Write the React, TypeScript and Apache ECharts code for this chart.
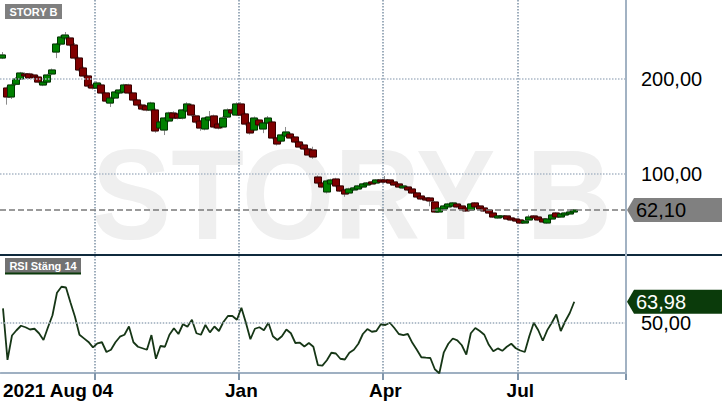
import React, { useEffect, useRef } from 'react';
import * as echarts from 'echarts';

const dates = [
  '2021-08-04','2021-08-06','2021-08-10','2021-08-12','2021-08-16','2021-08-18','2021-08-20','2021-08-24','2021-08-26','2021-08-30',
  '2021-09-01','2021-09-03','2021-09-07','2021-09-09','2021-09-13','2021-09-15','2021-09-17','2021-09-21','2021-09-23','2021-09-27','2021-09-29',
  '2021-10-01','2021-10-05','2021-10-07','2021-10-11','2021-10-13','2021-10-15','2021-10-19','2021-10-21','2021-10-25','2021-10-27','2021-10-29',
  '2021-11-02','2021-11-04','2021-11-08','2021-11-10','2021-11-12','2021-11-16','2021-11-18','2021-11-22','2021-11-24','2021-11-26','2021-11-30',
  '2021-12-02','2021-12-06','2021-12-08','2021-12-10','2021-12-14','2021-12-16','2021-12-20','2021-12-22','2021-12-27','2021-12-29',
  '2022-01-03','2022-01-05','2022-01-10','2022-01-12','2022-01-14','2022-01-18','2022-01-20','2022-01-24','2022-01-26','2022-01-28',
  '2022-02-01','2022-02-03','2022-02-07','2022-02-09','2022-02-11','2022-02-15','2022-02-17','2022-02-21','2022-02-23','2022-02-25',
  '2022-03-01','2022-03-03','2022-03-07','2022-03-09','2022-03-11','2022-03-15','2022-03-17','2022-03-21','2022-03-23','2022-03-25','2022-03-29','2022-03-31',
  '2022-04-04','2022-04-06','2022-04-08','2022-04-12','2022-04-14','2022-04-20','2022-04-22','2022-04-26','2022-04-28',
  '2022-05-02','2022-05-04','2022-05-06','2022-05-10','2022-05-12','2022-05-16','2022-05-18','2022-05-20','2022-05-24','2022-05-27','2022-05-31',
  '2022-06-02','2022-06-07','2022-06-09','2022-06-13','2022-06-15','2022-06-17','2022-06-21','2022-06-23','2022-06-28','2022-06-30',
  '2022-07-04','2022-07-06','2022-07-08','2022-07-12','2022-07-14','2022-07-18','2022-07-20','2022-07-22','2022-07-26','2022-07-28',
  '2022-08-01','2022-08-03','2022-08-05',
];

const opens = [
  222.1,190.5,181.1,194.5,200,205.3,205.3,204.2,202.1,193.7,
  196.8,205.3,228.4,236.8,243.2,243.2,235.8,222.1,211.6,203.2,193.7,
  190.5,193.7,185.3,174.7,180,185.3,186.3,193.7,185.3,177.9,172.6,
  171.6,167.4,167.4,148.4,146.3,155.8,164.2,163.2,158.9,166.3,172.6,
  161.1,155.8,147.4,156.8,161.1,152.6,149.5,160,167.4,162.1,
  173.7,163.2,153.7,146.3,156.8,147.4,153.7,154.7,137.9,134.7,
  140,142.1,138.9,133.7,130.5,126.3,125.3,96.8,90.5,81.1,
  89.5,94.7,87.4,83.2,80,83.2,84.2,86.3,88.4,91.6,90.5,93.7,
  93.7,93.7,91.6,89.5,85.3,86.3,84.2,80,76.8,
  74.7,74.7,70.5,60,63.2,65.3,66.3,68.4,66.3,64.2,62.1,
  69.5,66.3,64.2,62.1,58.9,53.7,54.7,55.8,53.7,52.6,
  51.6,48.4,51.6,55.8,54.7,52.6,48.4,52.6,58.9,54.7,
  56.8,57.9,60,
];

const closes = [
  225.3,181.1,193.7,200,206.3,203.2,201.1,202.1,196.8,196.8,
  204.2,209.5,236.8,244.2,246.3,235.8,222.1,209.5,203.2,192.6,190.5,
  195.8,185.3,176.8,180,186.3,188.4,193.7,185.3,177.9,172.6,168.4,
  167.4,174.7,145.3,154.7,158.9,164.2,158.9,158.9,167.4,173.7,162.1,
  154.7,148.4,158.9,160,149.5,148.4,158.9,167.4,164.2,173.7,
  162.1,152.6,143.2,158.9,151.6,153.7,158.9,137.9,131.6,141.1,
  144.2,137.9,133.7,128.4,126.3,120,117.9,90.5,86.3,92.6,
  93.7,87.4,82.1,78.9,84.2,85.3,87.4,89.5,90.5,89.5,93.7,91.6,
  91.6,90.5,88.4,86.3,87.4,83.2,80,75.8,73.7,
  72.6,71.6,60,64.2,66.3,68.4,69.5,65.3,63.2,61.1,68.4,
  65.3,63.2,61.1,58.9,54.7,55.8,55.8,52.6,51.6,50.5,
  48.4,50.5,54.7,53.7,51.6,49.5,52.6,56.8,54.7,57.9,
  58.9,60,62.1,
];

const lows = [
  221,173,179,193,199,202,200,201,195.5,192.5,
  195.5,204,222,235,241.5,234.5,220.5,208,201.5,191,189,
  189.5,184,175.5,170.5,179,184,185,184,176.5,171,167,
  166,166,143.5,147,141,154.5,157.5,157.5,157.5,165,160.5,
  153,145.5,146,155.5,148,147,148,159,163,161,
  161,151,141.5,145,150,143,152.5,136.5,130,133.5,
  139,136.5,132.5,127,125,118.5,116,89,85,79.5,
  88.5,86,81,76,79,82,83,85,87.5,88.5,89.5,90.5,
  90.5,89.5,87.5,85.5,84.5,82,79,74.5,72.5,
  71.5,66,59,59,62,64.5,65.5,64.5,62.5,60,61,
  64.5,62,60,58,53.7,53,54,51.6,50.8,49.8,
  47.5,47.8,50.8,53,50.8,48.5,47.5,52,54,54,
  56,57,59.5,
];

const highs = [
  228.4,192,195,202,207.5,207,206.5,205.5,203.5,198,
  205.5,211,238,246,249.5,245,238,223.5,213,204.5,195,
  197.5,195,186.5,181.5,187.5,189.5,195,195,186.5,179,174,
  172.5,176,169,156,160,165.5,166,164.5,168.5,175.5,174,
  162.5,157,160,166.3,162.5,154,160.5,169,169,175.5,
  175.5,164.5,155,160.5,158,155,161,156,139,142.5,
  149.5,143.5,140,135,132,127.5,128.7,98.5,91.5,94,
  95,96,88.5,84.5,85.5,86.5,88.5,90.5,91.5,92.5,94.5,95,
  97.9,94.5,92.5,90.5,88.5,87.5,85.5,81,77.8,
  75.8,75.8,71.5,65,67.5,69.5,70.5,69.5,67.5,65,69.5,
  70.5,67.3,65,63,60,56.8,56.8,56.8,54.5,53.5,
  52.5,51.5,57,56.8,55.5,53.5,53.5,57.8,59.8,58.8,
  59.8,61,63,
];

const rsi = [
  59.6,25.2,41.5,45,48,47,45.5,46,43,38.5,
  47,55,70,74,73.5,63.5,54,42,39.6,37.2,33.6,
  36.3,37,30.5,32,37,40.7,42,47.5,37,34,33,
  32,41.8,26,34.5,34,42,46.3,42.5,49,47.4,52,
  43,42,48.5,43.6,47.5,44.5,50.5,54.5,54.5,52,
  60,50,39,46,47,45,50,41,38.5,41,
  45.5,43,36.5,36.7,34.2,36.5,34,21.8,21.4,25,
  30,29.5,26,25.5,30,32,36,42.5,45.8,44,44.5,49,
  48.5,50,46.5,42.5,41.8,42.5,36.6,32,27,
  26.7,26.5,19,16.3,30.3,36,39.5,38.3,35,28.8,43,
  46.5,44.5,42,35.3,31,32.9,31.3,34,36,33,
  31.5,30.5,41,50,45,38,45.1,50,55.5,44.5,
  51,56.5,63.98,
];

const gridDates = ['2021-10-01', '2022-01-03', '2022-04-04', '2022-07-04'];
const labelDates = ['2021-08-04', '2022-01-03', '2022-04-04', '2022-07-04'];
const labelTexts = ['2021 Aug 04', 'Jan', 'Apr', 'Jul'];
const priceTicks = [200, 100];
const rsiTicks = [50];
const emptySlots = 11;
const title = 'STORY B';
const rsiTitle = 'RSI Stäng 14';

const fmt = (v: number) => v.toFixed(2).replace('.', ',');

export default function App() {
  const ref = useRef<HTMLDivElement>(null);

  useEffect(() => {
    document.body.style.margin = '0';
    const chart = echarts.init(ref.current!, null, { renderer: 'svg' });
    const FONT = '"Liberation Sans", Arial, sans-serif';
    const plotRight = 626;
    const W = 722;

    const cats = dates.concat(Array.from({ length: emptySlots }, (_, k) => `pad${k}`));
    const full = dates.map((_, i) => [opens[i], closes[i], lows[i], highs[i]]);
    const bodies = dates.map((_, i) => [
      opens[i],
      closes[i],
      Math.min(opens[i], closes[i]),
      Math.max(opens[i], closes[i]),
    ]);
    const isGrid = (_: number, v: string) => gridDates.includes(v);
    const isLabel = (_: number, v: string) => labelDates.includes(v);
    const splitLine = {
      show: true,
      interval: isGrid,
      lineStyle: { color: '#7e92a6', type: 'dotted', width: 1.5 },
    };
    const lastPrice = closes[closes.length - 1];
    const lastRsi = rsi[rsi.length - 1];

    chart.setOption({
      animation: false,
      textStyle: { fontFamily: FONT },
      grid: [
        { left: 0, top: 0, width: plotRight, height: 255 },
        { left: 0, top: 256, width: plotRight, height: 117 },
      ],
      xAxis: [
        {
          type: 'category',
          gridIndex: 0,
          data: cats,
          boundaryGap: true,
          axisLine: { show: false },
          axisTick: { show: false },
          axisLabel: { show: false },
          splitLine,
        },
        {
          type: 'category',
          gridIndex: 1,
          data: cats,
          boundaryGap: true,
          axisLine: { show: true, lineStyle: { color: '#9fb0c2', width: 2 } },
          axisTick: {
            show: true,
            interval: isGrid,
            length: 7,
            lineStyle: { color: '#8196ab', width: 2 },
          },
          axisLabel: {
            show: true,
            interval: isLabel,
            formatter: (v: string) => {
              const k = labelDates.indexOf(v);
              return k >= 0 ? labelTexts[k] : '';
            },
            alignMinLabel: 'left',
            color: '#000',
            fontWeight: 'bold',
            fontSize: 19,
            fontFamily: FONT,
            margin: 8,
          },
          splitLine,
        },
      ],
      yAxis: [
        { type: 'value', gridIndex: 0, min: 14.7, max: 283.2, show: false, splitLine: { show: false } },
        { type: 'value', gridIndex: 1, min: 16.5, max: 94.5, show: false, splitLine: { show: false } },
      ],
      series: [
        {
          type: 'candlestick',
          xAxisIndex: 0,
          yAxisIndex: 0,
          data: full,
          barWidth: 7.5,
          itemStyle: {
            color: '#008000',
            color0: '#800000',
            borderColor: '#8c8c8c',
            borderColor0: '#8c8c8c',
            borderWidth: 1,
          },
          markLine: {
            silent: true,
            symbol: 'none',
            data: [
              ...priceTicks.map((t) => ({
                yAxis: t,
                lineStyle: { color: '#abb8c6', type: 'dotted', width: 1.5 },
                label: {
                  show: true,
                  position: 'end',
                  distance: 15,
                  formatter: () => fmt(t),
                  color: '#000',
                  fontSize: 20,
                  fontFamily: FONT,
                },
              })),
              {
                yAxis: lastPrice,
                lineStyle: { color: '#7a7a7a', type: 'dashed', width: 1.5 },
                label: { show: false },
              },
            ],
          },
        },
        {
          type: 'candlestick',
          xAxisIndex: 0,
          yAxisIndex: 0,
          data: bodies,
          barWidth: 7.5,
          itemStyle: {
            color: '#008000',
            color0: '#800000',
            borderColor: '#003800',
            borderColor0: '#3a0000',
            borderWidth: 1,
          },
        },
        {
          type: 'line',
          xAxisIndex: 1,
          yAxisIndex: 1,
          data: rsi,
          showSymbol: false,
          symbol: 'none',
          lineStyle: { color: '#163616', width: 1.8 },
          markLine: {
            silent: true,
            symbol: 'none',
            data: rsiTicks.map((t) => ({
              yAxis: t,
              lineStyle: { color: '#9aaabb', type: 'dotted', width: 1.5 },
              label: {
                show: true,
                position: 'end',
                distance: 15,
                formatter: () => fmt(t),
                color: '#000',
                fontSize: 20,
                fontFamily: FONT,
              },
            })),
          },
        },
      ],
    });

    const yP = chart.convertToPixel({ yAxisIndex: 0 }, lastPrice) as number;
    const yR = chart.convertToPixel({ yAxisIndex: 1 }, lastRsi) as number;
    const tag = (y: number, fill: string, color: string, text: string, id: string) => [
      {
        type: 'polygon',
        id: id + 'p',
        z: 100,
        shape: {
          points: [
            [plotRight + 1, y],
            [plotRight + 8, y - 12],
            [W, y - 12],
            [W, y + 12],
            [plotRight + 8, y + 12],
          ],
        },
        style: { fill },
      },
      {
        type: 'text',
        id: id + 't',
        z: 101,
        x: plotRight + 10,
        y,
        style: {
          text,
          fill: color,
          font: `20px ${FONT}`,
          textAlign: 'left',
          textVerticalAlign: 'middle',
        },
      },
    ];

    chart.setOption({
      graphic: [
        {
          type: 'text',
          id: 'wm',
          z: -1,
          silent: true,
          x: 352,
          y: 194,
          scaleX: 0.93,
          style: {
            text: title,
            fill: '#efefef',
            font: `bold 128px ${FONT}`,
            textAlign: 'center',
            textVerticalAlign: 'middle',
          },
        },
        {
          type: 'line',
          id: 'sep',
          z: 50,
          shape: { x1: 0, y1: 255, x2: W, y2: 255 },
          style: { stroke: '#0f2a3d', lineWidth: 2 },
        },
        {
          type: 'line',
          id: 'rb',
          z: 50,
          shape: { x1: plotRight, y1: 0, x2: plotRight, y2: 374 },
          style: { stroke: '#a2b2c3', lineWidth: 2 },
        },
        {
          type: 'rect',
          id: 'tb',
          z: 100,
          shape: { x: 5, y: 4, width: 57, height: 15 },
          style: { fill: '#7f7f7f' },
        },
        {
          type: 'text',
          id: 'tt',
          z: 101,
          x: 33.5,
          y: 11.5,
          style: {
            text: title,
            fill: '#fff',
            font: `bold 11px ${FONT}`,
            textAlign: 'center',
            textVerticalAlign: 'middle',
          },
        },
        {
          type: 'rect',
          id: 'rbx',
          z: 100,
          shape: { x: 5, y: 258, width: 76, height: 15 },
          style: { fill: '#727272' },
        },
        {
          type: 'line',
          id: 'rbl',
          z: 100,
          shape: { x1: 5, y1: 273.5, x2: 81, y2: 273.5 },
          style: { stroke: '#0b3b0b', lineWidth: 2 },
        },
        {
          type: 'text',
          id: 'rt',
          z: 101,
          x: 43,
          y: 265.5,
          style: {
            text: rsiTitle,
            fill: '#fff',
            font: `bold 11px ${FONT}`,
            textAlign: 'center',
            textVerticalAlign: 'middle',
          },
        },
        ...tag(yP, '#808080', '#000', fmt(lastPrice), 'pt'),
        ...tag(yR, '#0b3b0b', '#fff', fmt(lastRsi), 'rt2'),
      ],
    });

    return () => chart.dispose();
  }, []);

  return <div ref={ref} style={{ width: 722, height: 410 }} />;
}
